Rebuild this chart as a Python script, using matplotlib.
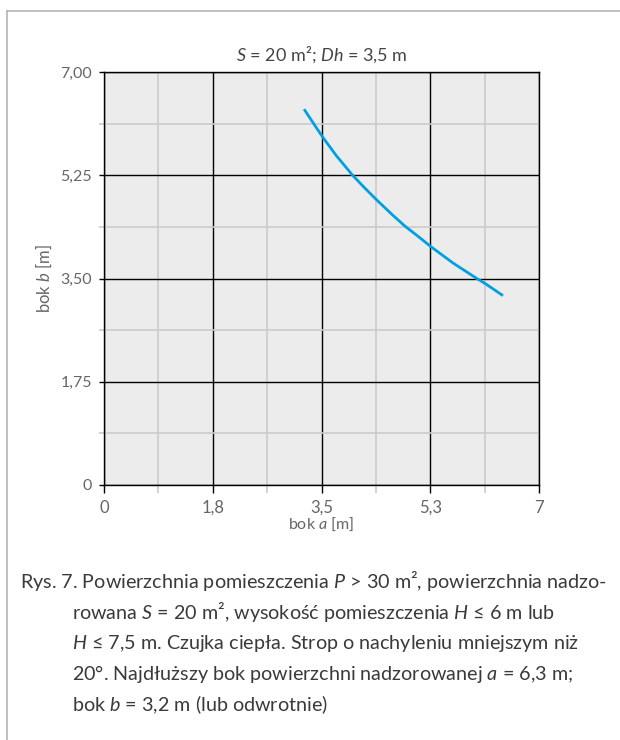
import matplotlib
matplotlib.use("Agg")
import matplotlib.pyplot as plt
from matplotlib.lines import Line2D

# dane: bok a [m] -> bok b [m]
bok_a = [3.22, 3.37, 3.53, 3.74, 4.00, 4.20, 4.39, 4.63, 4.84, 5.06, 5.26, 5.62, 6.00, 6.14, 6.42]
bok_b = [6.37, 6.13, 5.88, 5.58, 5.25, 5.03, 4.83, 4.59, 4.39, 4.21, 4.04, 3.76, 3.50, 3.41, 3.21]

major_ticks = [0, 1.75, 3.5, 5.25, 7]
minor_ticks = [0.875, 2.625, 4.375, 6.125]
x_labels = ["0", "1,8", "3,5", "5,3", "7"]
y_labels = ["0", "1,75", "3,50", "5,25", "7,00"]

caption = [
    "Rys. 7. Powierzchnia pomieszczenia $P$ > 30 m², powierzchnia nadzo-",
    "rowana $S$ = 20 m², wysokość pomieszczenia $H$ ≤ 6 m lub",
    "$H$ ≤ 7,5 m. Czujka ciepła. Strop o nachyleniu mniejszym niż",
    "20°. Najdłuższy bok powierzchni nadzorowanej $a$ = 6,3 m;",
    "bok $b$ = 3,2 m (lub odwrotnie)",
]

plt.rcParams["font.family"] = ["Lato", "DejaVu Sans"]
plt.rcParams["mathtext.fontset"] = "custom"
plt.rcParams["mathtext.rm"] = "Lato"
plt.rcParams["mathtext.it"] = "Lato:italic"

W, H = 620, 740
fig = plt.figure(figsize=(W / 100, H / 100), dpi=100, facecolor="white")

# ramka (lewa i górna krawędź)
fig.add_artist(Line2D([6.5 / W, 6.5 / W], [0, 1 - 10.5 / H], color="#b4b4b4", lw=1.2))
fig.add_artist(Line2D([6.5 / W, 1], [1 - 10.5 / H, 1 - 10.5 / H], color="#b4b4b4", lw=1.2))

ax = fig.add_axes([104 / W, 1 - 485 / H, 435 / W, 413 / H])
ax.set_facecolor("#ececec")
ax.set_xlim(0, 7)
ax.set_ylim(0, 7)

ax.set_xticks(major_ticks)
ax.set_xticklabels(x_labels)
ax.set_yticks(major_ticks)
ax.set_yticklabels(y_labels)
ax.set_xticks(minor_ticks, minor=True)
ax.set_yticks(minor_ticks, minor=True)

ax.grid(which="minor", color="#cbcbcb", lw=1.2, zorder=0)
ax.grid(which="major", color="black", lw=1.0, zorder=1)
ax.set_axisbelow(True)

for s in ax.spines.values():
    s.set_color("black")
    s.set_linewidth(1.0)

ax.tick_params(axis="x", which="major", length=6, width=1.0, color="black",
               labelsize=12, labelcolor="#666666", pad=4.5)
ax.tick_params(axis="x", which="minor", length=6, width=1.2, color="#cbcbcb")
ax.tick_params(axis="y", which="major", length=3.5, width=1.0, color="black",
               labelsize=11.5, labelcolor="#666666", pad=5)
ax.tick_params(axis="y", which="minor", length=3.5, width=1.2, color="#cbcbcb")

ax.plot(bok_a, bok_b, color="#00a0e3", lw=2.0, solid_capstyle="butt", zorder=3)

ax.set_title("$S$ = 20 m²; $Dh$ = 3,5 m", fontsize=13, color="#444444", pad=8)
ax.set_xlabel("bok $a$ [m]", fontsize=11.5, color="#666666", labelpad=0)
ax.set_ylabel("bok $b$ [m]", fontsize=12, color="#666666")
ax.yaxis.set_label_coords((54 - 104) / 435, 0.5)

ys = [581, 612, 643, 674, 705]
for i, (line, y) in enumerate(zip(caption, ys)):
    x = 20 if i == 0 else 72
    fig.text(x / W, 1 - y / H, line, fontsize=14.2, color="#3a3a3a",
             ha="left", va="center")

fig.savefig("out.png", dpi=100, facecolor="white")
